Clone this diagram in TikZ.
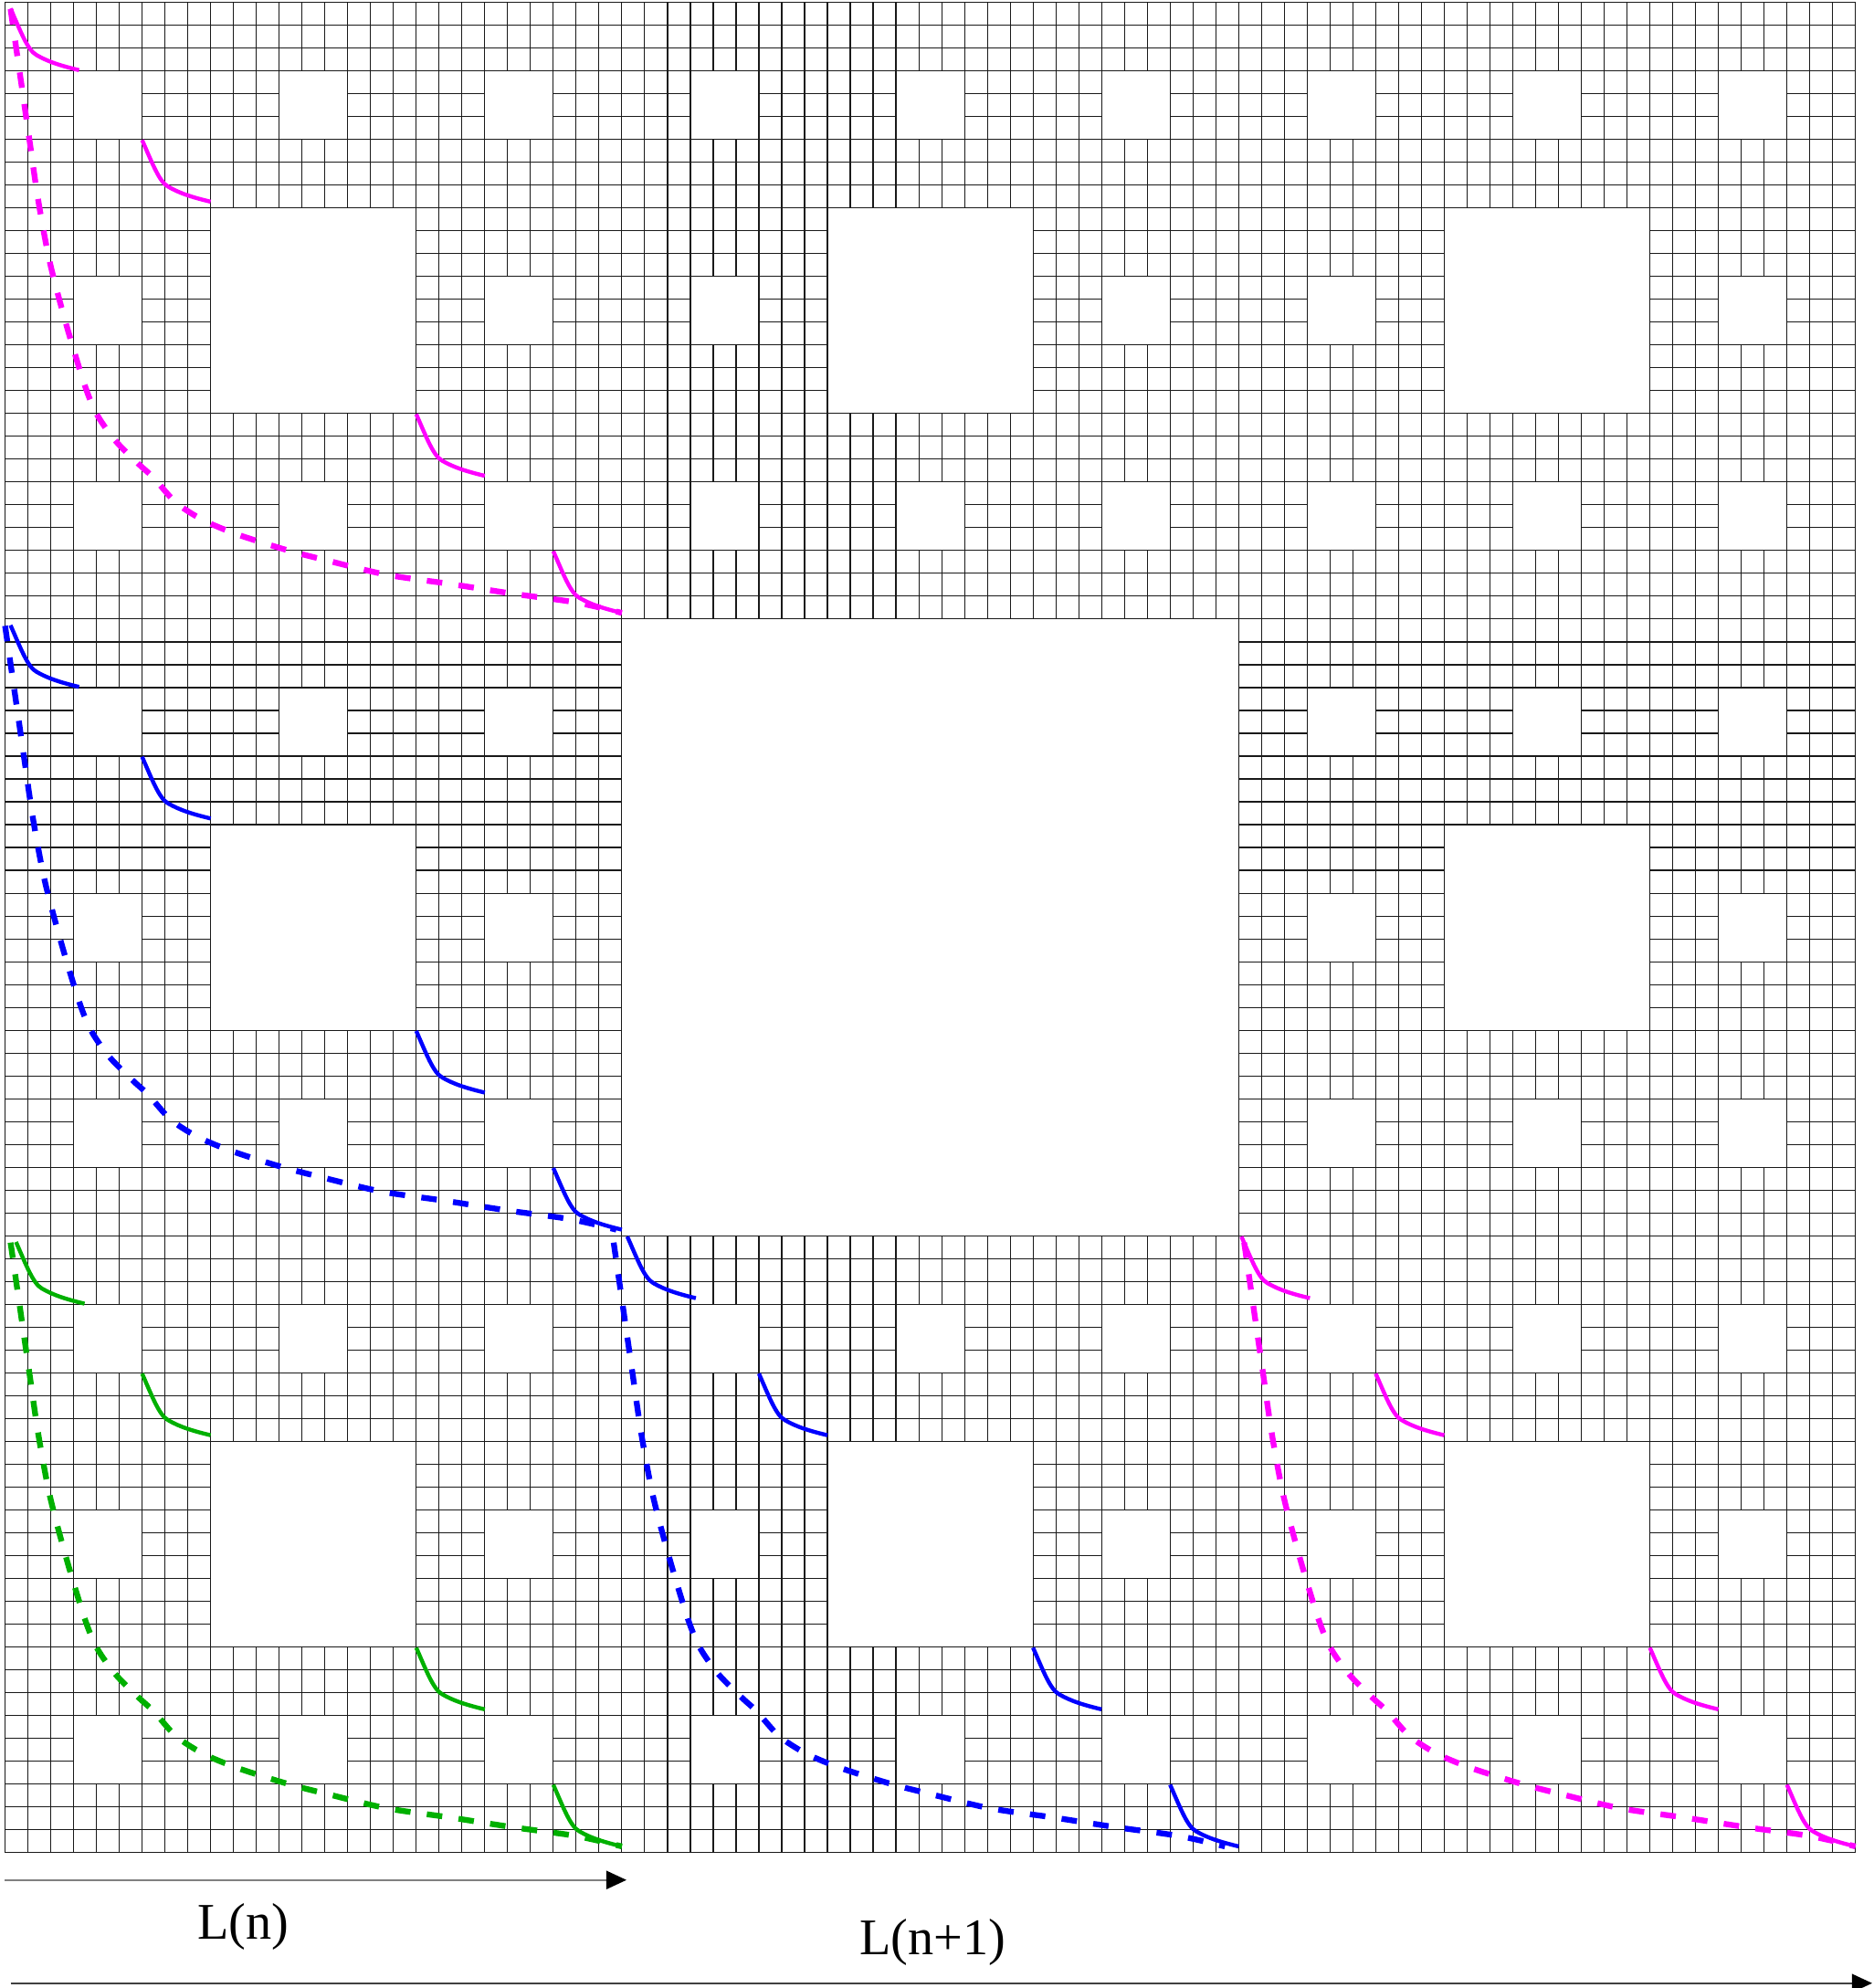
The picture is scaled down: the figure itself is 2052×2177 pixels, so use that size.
\documentclass[tikz,border=0pt]{standalone}
\usepackage{fontspec}
\setmainfont{Liberation Serif}
\usetikzlibrary{arrows.meta}
\definecolor{mag}{RGB}{255,0,255}
\definecolor{blu}{RGB}{0,0,255}
\definecolor{grn}{RGB}{0,176,0}
\tikzset{
 gridline/.style={line width=0.33pt, draw=black!90},
 dashc/.style={line width=1.8pt, dash pattern=on 0.17cm off 0.18cm},
 solidc/.style={line width=1.25pt},
 axisA/.style={line width=0.5pt, draw=black!50, -{Triangle[length=0.22cm,width=0.2cm,color=black]}},
 axisB/.style={line width=0.5pt, draw=black!75, -{Triangle[length=0.22cm,width=0.2cm,color=black]}},
 lab/.style={font=\fontsize{16}{19}\selectfont, anchor=base, inner sep=0pt}
}
% small solid curve: colour, cell x, cell y, shift x, shift y (cells)
\newcommand\scurve[5]{%
 \begin{scope}[shift={(#2+#4,#3+#5)}, x=0.75cm, y=-0.75cm]
  \draw[solidc,#1] (0,0.01) .. controls (0.15,0.35) and (0.25,0.62) .. (0.38,0.69)
     .. controls (0.55,0.79) and (0.75,0.85) .. (1,0.91);
 \end{scope}}
% big dashed curve: colour, cell x, cell y, shift x (cells)
\newcommand\bcurve[4]{%
 \begin{scope}[shift={(#2+#4,#3)}, x=6.75cm, y=-6.75cm]
  \draw[dashc,#1] plot[smooth,tension=0.5] coordinates {(0.009,0.011) (0.024,0.115) (0.039,0.219) (0.054,0.322) (0.073,0.423) (0.100,0.525) (0.130,0.623) (0.150,0.670) (0.180,0.712) (0.217,0.749) (0.241,0.771) (0.277,0.811) (0.320,0.839) (0.369,0.860) (0.417,0.876) (0.467,0.891) (0.518,0.904) (0.618,0.928) (0.721,0.943) (0.824,0.959) (0.925,0.973) (1.0,0.99)};
 \end{scope}}
\begin{document}
\begin{tikzpicture}[x=0.01cm, y=-0.01cm]
\useasboundingbox (0,0) rectangle (2052,2177);
\fill[white] (0,0) rectangle (2052,2177);
\begin{scope}[shift={(5.5,2.5)}, x=0.25cm, y=-0.25cm]
 \foreach \i in {0,...,81}{
  \draw[gridline] (\i,0) -- (\i,81);
  \draw[gridline] (0,\i) -- (81,\i);
 }
 \draw[gridline] (0,0) rectangle (81,81);
 \foreach \i/\j in {0/0,1/0,2/0,0/1,2/1,0/2,1/2,2/2}{
  \filldraw[gridline, fill=white] ({27*\i+9},{27*\j+9}) rectangle +(9,9);
  \foreach \k/\l in {0/0,1/0,2/0,0/1,2/1,0/2,1/2,2/2}{
   \filldraw[gridline, fill=white] ({27*\i+9*\k+3},{27*\j+9*\l+3}) rectangle +(3,3);
  }
 }
 \filldraw[gridline, fill=white] (27,27) rectangle (54,54);
 % small solid curves
 \scurve{mag}{0}{0}{0.24}{0.24}
 \scurve{mag}{6}{6}{0}{0}
 \scurve{mag}{18}{18}{0}{0}
 \scurve{mag}{24}{24}{0}{0}
 \scurve{blu}{0}{27}{0.24}{0.24}
 \scurve{blu}{6}{33}{0}{0}
 \scurve{blu}{18}{45}{0}{0}
 \scurve{blu}{24}{51}{0}{0}
 \scurve{grn}{0}{54}{0.48}{0.24}
 \scurve{grn}{6}{60}{0}{0}
 \scurve{grn}{18}{72}{0}{0}
 \scurve{grn}{24}{78}{0}{0}
 \scurve{blu}{27}{54}{0.24}{0}
 \scurve{blu}{33}{60}{0}{0}
 \scurve{blu}{45}{72}{0}{0}
 \scurve{blu}{51}{78}{0}{0}
 \scurve{mag}{54}{54}{0.12}{0}
 \scurve{mag}{60}{60}{0}{0}
 \scurve{mag}{72}{72}{0}{0}
 \scurve{mag}{78}{78}{0}{0}
 % big dashed curves
 \bcurve{mag}{0}{0}{0}
 \bcurve{blu}{0}{27}{-0.24}
 \bcurve{grn}{0}{54}{0}
 \bcurve{blu}{27}{54}{-0.6}
 \bcurve{mag}{54}{54}{0}
\end{scope}
% length arrows
\coordinate (a1s) at (5,2058.7);
\coordinate (a1e) at (686,2058.7);
\coordinate (a2s) at (11.6,2171.7);
\coordinate (a2e) at (2050,2171.7);
\draw[axisA] (a1s) -- (a1e);
\draw[axisB] (a2s) -- (a2e);
\node[lab] (ln) at (266,2123) {L(n)};
\node[lab] (ln1) at (1021,2140) {L(n+1)};
\end{tikzpicture}
\end{document}
